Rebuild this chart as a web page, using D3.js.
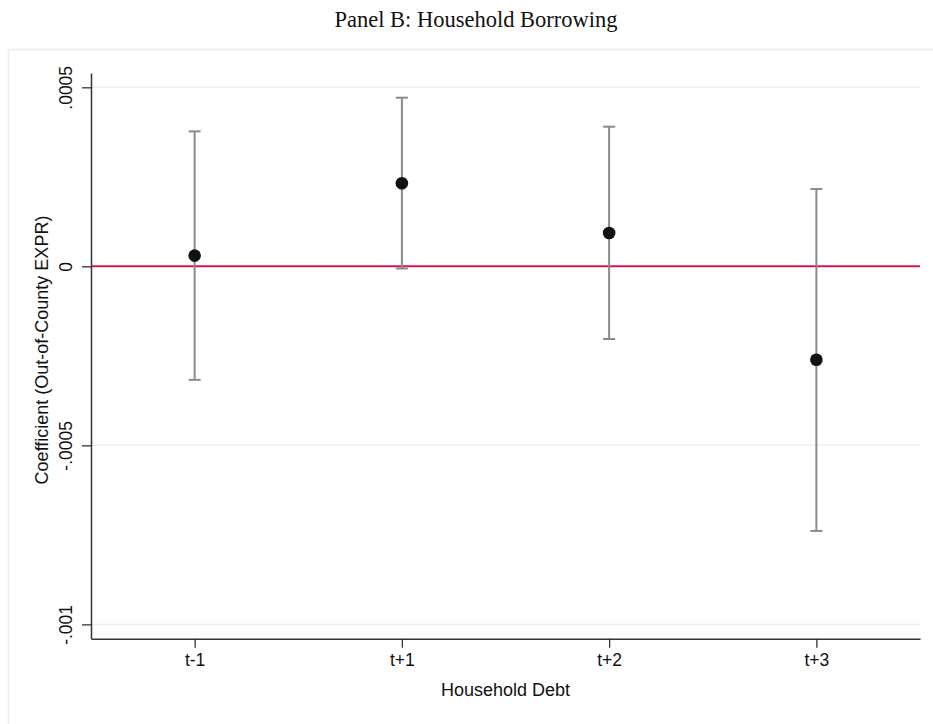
<!DOCTYPE html>
<html>
<head>
<meta charset="utf-8">
<script src="https://cdn.jsdelivr.net/npm/d3@7"></script>
<style>
  html, body { margin: 0; padding: 0; background: #ffffff; }
  svg { display: block; }
</style>
</head>
<body>
<svg id="chart" width="933" height="724"></svg>
<script>
// Event-time coefficients with 95% confidence bounds
const categories = ["t-1", "t+1", "t+2", "t+3"];
const coef   = [0.000030, 0.000232, 0.000093, -0.000261];
const ciLow  = [-0.000317, -0.000006, -0.000203, -0.000739];
const ciHigh = [0.000377, 0.000471, 0.000390, 0.000216];
const yTickValues = [-0.001, -0.0005, 0, 0.0005];
const yTickLabels = ["-.001", "-.0005", "0", ".0005"];

const titleText = "Panel B: Household Borrowing";
const xTitle = "Household Debt";
const yTitle = "Coefficient (Out-of-County EXPR)";

const svg = d3.select("#chart");
const W = 933, H = 724;

const plot = { left: 91, right: 920, top: 73, bottom: 638.7 };

// outer graph-region frame
svg.append("rect")
  .attr("x", 8.5).attr("y", 49.5)
  .attr("width", W).attr("height", H)
  .attr("fill", "none")
  .attr("stroke", "#e8eff1")
  .attr("stroke-width", 1.5);

// title
svg.append("text")
  .attr("x", 476).attr("y", 27)
  .attr("text-anchor", "middle")
  .attr("font-family", "'Liberation Serif', 'Times New Roman', serif")
  .attr("font-size", 22.5)
  .attr("fill", "#111")
  .text(titleText);

const x = d3.scaleLinear()
  .domain([0.5, categories.length + 0.5])
  .range([plot.left, plot.right]);

const y = d3.scaleLinear()
  .domain([-0.00104, 0.00054])
  .range([plot.bottom, plot.top]);

// horizontal grid lines
svg.append("g")
  .selectAll("line")
  .data(yTickValues.filter(v => v !== 0))
  .join("line")
  .attr("x1", plot.left).attr("x2", plot.right)
  .attr("y1", d => y(d)).attr("y2", d => y(d))
  .attr("stroke", "#e9f1f4")
  .attr("stroke-width", 1.5);

// zero reference line
svg.append("line")
  .attr("x1", plot.left).attr("x2", plot.right)
  .attr("y1", y(0)).attr("y2", y(0))
  .attr("stroke", "#d01a48")
  .attr("stroke-width", 2);

// y axis
const yAxis = d3.axisLeft(y)
  .tickValues(yTickValues)
  .tickFormat((d, i) => yTickLabels[i])
  .tickSize(9)
  .tickSizeOuter(0);

const gy = svg.append("g")
  .attr("transform", `translate(${plot.left},0)`)
  .call(yAxis);
gy.select(".domain").attr("stroke", "#333").attr("stroke-width", 1.5);
gy.selectAll(".tick line").attr("stroke", "#333").attr("stroke-width", 1.3);
gy.selectAll(".tick text")
  .attr("transform", "rotate(-90)")
  .attr("x", 0).attr("y", -19.5).attr("dy", 0)
  .attr("text-anchor", "middle")
  .attr("font-family", "'Liberation Sans', Arial, sans-serif")
  .attr("font-size", 17.5)
  .attr("fill", "#111");

// x axis
const xAxis = d3.axisBottom(x)
  .tickValues(categories.map((c, i) => i + 1))
  .tickFormat((d, i) => categories[i])
  .tickSize(9)
  .tickSizeOuter(0);

const gx = svg.append("g")
  .attr("transform", `translate(0,${plot.bottom})`)
  .call(xAxis);
gx.select(".domain").attr("stroke", "#333").attr("stroke-width", 1.5);
gx.selectAll(".tick line").attr("stroke", "#333").attr("stroke-width", 1.3);
gx.selectAll(".tick text")
  .attr("y", 27.3).attr("dy", 0)
  .attr("font-family", "'Liberation Sans', Arial, sans-serif")
  .attr("font-size", 17.5)
  .attr("fill", "#111");

// axis titles
svg.append("text")
  .attr("x", (plot.left + plot.right) / 2).attr("y", 695.7)
  .attr("text-anchor", "middle")
  .attr("font-family", "'Liberation Sans', Arial, sans-serif")
  .attr("font-size", 18)
  .attr("fill", "#111")
  .text(xTitle);

svg.append("text")
  .attr("transform", `translate(48,350) rotate(-90)`)
  .attr("text-anchor", "middle")
  .attr("font-family", "'Liberation Sans', Arial, sans-serif")
  .attr("font-size", 18)
  .attr("fill", "#111")
  .text(yTitle);

// confidence intervals
const rows = categories.map((c, i) => ({ i: i + 1, c, est: coef[i], lo: ciLow[i], hi: ciHigh[i] }));
const capHalf = 6;
const ci = svg.append("g").attr("stroke", "#8a8a8a").attr("stroke-width", 2);
ci.selectAll("line.stem").data(rows).join("line").attr("class", "stem")
  .attr("x1", d => x(d.i)).attr("x2", d => x(d.i))
  .attr("y1", d => y(d.lo)).attr("y2", d => y(d.hi));
ci.selectAll("line.caphi").data(rows).join("line").attr("class", "caphi")
  .attr("x1", d => x(d.i) - capHalf).attr("x2", d => x(d.i) + capHalf)
  .attr("y1", d => y(d.hi)).attr("y2", d => y(d.hi));
ci.selectAll("line.caplo").data(rows).join("line").attr("class", "caplo")
  .attr("x1", d => x(d.i) - capHalf).attr("x2", d => x(d.i) + capHalf)
  .attr("y1", d => y(d.lo)).attr("y2", d => y(d.lo));

// point estimates
svg.append("g").selectAll("circle").data(rows).join("circle")
  .attr("cx", d => x(d.i)).attr("cy", d => y(d.est))
  .attr("r", 6.3)
  .attr("fill", "#111");
</script>
</body>
</html>
